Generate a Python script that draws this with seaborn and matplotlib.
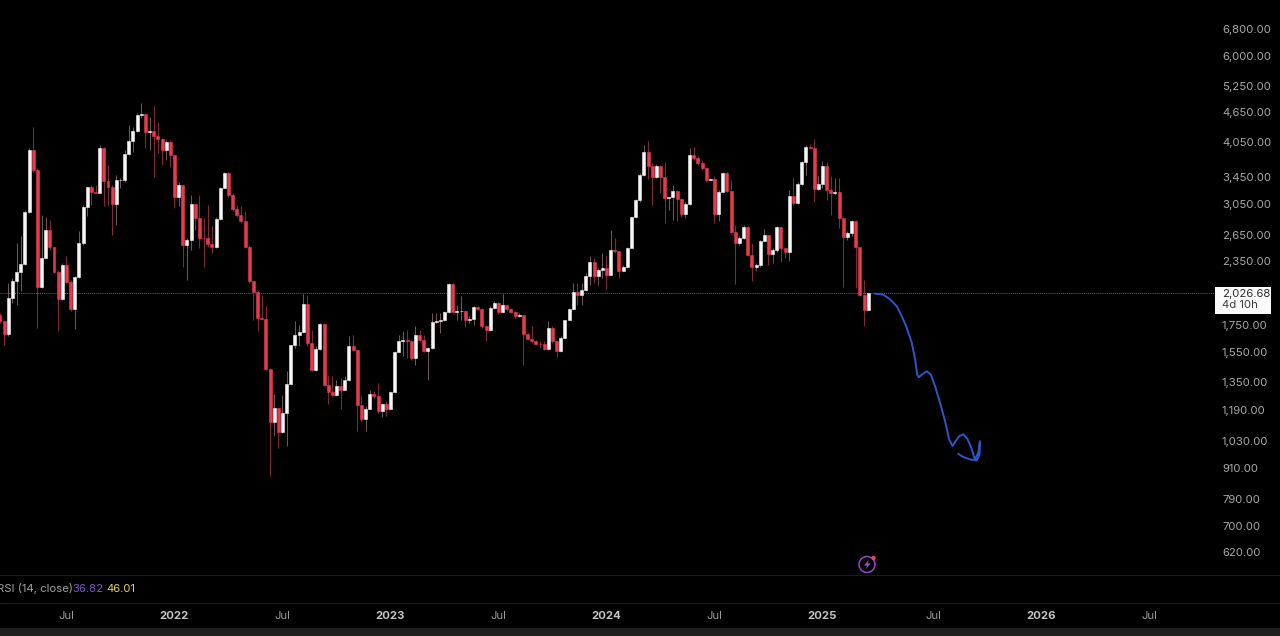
import numpy as np
import pandas as pd
import matplotlib
matplotlib.use("Agg")
import matplotlib.pyplot as plt
from matplotlib.lines import Line2D
from matplotlib.patches import Circle, Polygon, Rectangle
import seaborn as sns

first_open = 1839
closes = [1783,1683,1984,2148,2231,2317,2941,3909,3568,2087,2382,2703,2502,2236,1975,2311,2135,1887,2182,2552,
          3004,3296,3220,3215,3940,3392,3306,3050,3408,3408,3839,4073,4264,4588,4609,4251,4270,4174,4105,3909,
          4049,3822,3144,3332,2532,2591,3050,2861,2611,2606,2541,2506,2852,3290,3514,3181,2986,2905,2818,2512,
          2142,2039,1811,1805,1435,1126,1200,1076,1170,1341,1598,1678,1699,1933,1615,1426,1574,1764,1335,1291,
          1272,1325,1305,1362,1591,1567,1215,1138,1195,1276,1265,1181,1219,1195,1289,1551,1627,1640,1627,1510,
          1678,1640,1560,1579,1778,1783,1797,1858,2120,1858,1867,1870,1797,1803,1904,1887,1748,1717,1896,1939,
          1858,1918,1887,1862,1825,1839,1683,1648,1627,1610,1605,1574,1730,1627,1555,1656,1791,1887,2036,2015,
          2055,2190,2345,2190,2259,2277,2209,2467,2456,2248,2284,2494,2873,3101,3478,3868,3633,3450,3633,3450,
          3135,3145,3246,3125,2919,3054,3811,3763,3680,3605,3408,3429,2919,3231,3525,3246,2683,2552,2611,2742,
          2419,2287,2311,2572,2651,2430,2467,2742,2494,2449,3170,3064,3347,3697,3970,3951,3266,3343,3633,3256,
          3207,3220,2861,2618,2672,2818,2506,2015,1881,2027]
highs = [1853,1783,2126,2175,2552,2630,2972,3940,4350,3596,2905,2881,2839,2512,2259,2329,2400,2158,2190,2692,
         3040,3306,3332,3332,3990,3958,3650,3332,3488,3435,3909,4383,4350,4624,4840,4624,4553,4780,4449,4125,
         4092,4092,3822,3381,3332,2611,3181,3050,3181,2861,3040,2754,2881,3306,3540,3540,3207,3040,3018,2949,
         2532,2142,2045,2015,1910,1441,1276,1200,1272,1419,1603,1783,1757,2025,2015,1717,1591,1770,1770,1397,
         1386,1366,1377,1386,1664,1678,1567,1267,1210,1305,1295,1346,1228,1237,1295,1555,1678,1703,1717,1640,
         1743,1717,1678,1586,1853,1853,1853,1867,2126,2126,1924,1999,1881,1825,1915,1915,1896,1757,1910,1954,
         1945,2025,1924,1896,1867,1853,1839,1691,1743,1640,1627,1627,1783,1743,1627,1664,1797,1896,2130,2126,
         2126,2225,2400,2382,2277,2438,2419,2712,2611,2456,2311,2512,2881,3121,3514,3990,4079,3680,3667,3650,
         3706,3158,3332,3256,3135,3073,3940,3955,3804,3735,3622,3444,3465,3256,3540,3540,3408,2775,2630,2775,
         2754,2552,2329,2591,2721,2651,2494,2754,2754,2506,3256,3435,3381,3723,3990,4018,4105,3465,3723,3706,
         3465,3435,3435,2873,2692,2839,2830,2512,2158,2032]
lows = [1770,1603,1664,1939,1924,2045,2311,2927,3540,1730,2077,2382,2475,2228,1703,1969,2126,1867,1722,2175,
        2532,2893,3040,3207,3207,3018,3040,2651,2775,3281,3381,3822,3879,4251,4519,3940,3909,3450,3851,3650,
        3735,3622,2995,3018,2292,2158,2475,2712,2494,2292,2512,2438,2494,2839,3281,3158,2949,2881,2797,2494,
        2126,1797,1703,1797,1430,878,1054,1000,1071,1008,1335,1579,1591,1691,1591,1419,1419,1567,1325,1219,
        1267,1267,1191,1305,1356,1555,1078,1129,1078,1191,1257,1172,1152,1155,1195,1284,1551,1520,1510,1497,
        1463,1627,1551,1366,1574,1770,1691,1783,1853,1853,1797,1797,1738,1770,1757,1875,1730,1627,1703,1887,
        1847,1853,1867,1853,1811,1819,1463,1640,1615,1598,1579,1567,1567,1615,1516,1551,1653,1791,1881,1924,
        1924,2050,2110,2126,2110,2175,2068,2215,2438,2175,2241,2277,2494,2861,3086,3472,3419,3040,3444,3207,
        2797,2972,2839,2818,2873,2861,3040,3735,3650,3568,3381,3408,2797,2818,3207,3231,2663,2120,2532,2599,
        2400,2142,2241,2292,2560,2311,2329,2444,2345,2382,2356,3040,3054,3332,3488,3921,3086,3256,3281,3111,
        2905,3181,2733,2087,2591,2637,2077,1999,1748,1875]

sketch_week = [210.6,212.6,214.2,215.9,217.1,218.3,219.5,220.3,220.8,221.2,221.9,223.1,224.1,225.1,226.3,227.5,
               228.5,229.3,229.9,230.9,231.9,232.9,233.8,234.7,235.5,235.9,235.8,235.1,233.5,231.9,230.7]
sketch_price = [2025,2015,1975,1910,1825,1730,1615,1497,1397,1380,1397,1419,1397,1325,1228,1129,
                1038,1008,1026,1054,1063,1041,1000,948,977,1030,967,943,948,958,972]

price_ticks = [6800,6000,5250,4650,4050,3450,3050,2650,2350,1750,1550,1350,1190,1030,910,790,700,620]
time_ticks = [15.9,41.9,67.9,93.9,119.9,145.9,171.9,197.9,224.6,250.6,276.8]
time_labels = ["Jul","2022","Jul","2023","Jul","2024","Jul","2025","Jul","2026","Jul"]
last_price = 2026.68
countdown = "4d 10h"
rsi_text = "RSI (14, close)"
rsi_values = ["36.82", "46.01"]

W, H = 1280, 636
sns.set_theme(style="dark", rc={"figure.facecolor": "black", "axes.facecolor": "black", "savefig.facecolor": "black"})
plt.rcParams["font.family"] = ["Inter", "DejaVu Sans"]

RED, WHITE = "#e63a50", "#f6f6f6"
RED_WICK, WHITE_WICK = "#7e2b38", "#6d5658"
FS = 8.2

fig = plt.figure(figsize=(W/100, H/100), dpi=100)
ax = fig.add_axes([0, (H-575)/H, 1216/W, 575/H])

df = pd.DataFrame({"week": np.arange(len(closes)), "close": closes, "high": highs, "low": lows})
df["open"] = [first_open] + closes[:-1]
df["top"] = df[["open", "close"]].max(axis=1)
df["bottom"] = df[["open", "close"]].min(axis=1)
df["body"] = df["top"] - df["bottom"]
df["up"] = df["close"] >= df["open"]

for up, body_c, wick_c in [(False, RED, RED_WICK), (True, WHITE, WHITE_WICK)]:
    part = df[df["up"] == up]
    ax.vlines(part["week"], part["low"], part["high"], color=wick_c, lw=0.75, zorder=1)
    sns.barplot(x=part["week"].to_numpy(), y=part["body"].to_numpy(), bottom=part["bottom"].to_numpy(),
                native_scale=True, color=body_c, saturation=1, errorbar=None, width=0.72,
                edgecolor=body_c, linewidth=0.4, ax=ax, zorder=2)

sns.lineplot(x=sketch_week, y=sketch_price, sort=False, estimator=None, color="#2f55c9", lw=1.4, ax=ax, zorder=4,
             solid_capstyle="round", solid_joinstyle="round")

ax.axhline(last_price, color="#8a8a8a", lw=0.6, ls=(0, (1, 1.5)), zorder=0)

ax.set_yscale("log")
ax.set_ylim(558.2, 7766)
ax.set_xlim(0, 1216/4.154)
ax.yaxis.tick_right()
ax.set_yticks(price_ticks, [f"{v:,.2f}" for v in price_ticks])
ax.minorticks_off()
ax.set_xticks(time_ticks, time_labels)
ax.tick_params(axis="y", length=0, pad=4.3, labelsize=FS, labelcolor="#a8a8a8")
ax.tick_params(axis="x", length=0, pad=26, labelsize=FS, labelcolor="#9a9a9a")
for lab in ax.get_xticklabels():
    if lab.get_text().isdigit():
        lab.set_fontweight("bold")
        lab.set_color("#c4c4c4")
ax.set_xlabel("")
ax.set_ylabel("")
ax.grid(False)
for s in ax.spines.values():
    s.set_visible(False)

def fx(x): return x / W
def fy(y): return 1 - y / H

tf = fig.transFigure
fig.add_artist(Rectangle((0, 0), 1, (H-628)/H, transform=tf, fc="#1e1e1e", ec="none"))
for y in (575, 603):
    fig.add_artist(Line2D([0, 1], [fy(y), fy(y)], transform=tf, color="#1a1a1a", lw=0.8))

fig.add_artist(Rectangle((fx(1215), fy(313.5)), 56/W, 26.5/H, transform=tf, fc="#fafafa", ec="none", zorder=5))
fig.text(fx(1222), fy(294), f"{last_price:,.2f}", color="#2e2e2e", fontsize=FS, va="center", ha="left", zorder=6)
fig.text(fx(1222), fy(305.5), countdown, color="#3e3e3e", fontsize=FS, va="center", ha="left", zorder=6)

fig.text(fx(-3), fy(589), rsi_text, color="#a0a0a0", fontsize=FS, va="center", ha="left")
fig.text(fx(72), fy(589), rsi_values[0], color="#7a58c4", fontsize=FS, va="center", ha="left")
fig.text(fx(106), fy(589), rsi_values[1], color="#e8cf58", fontsize=FS, va="center", ha="left")

# alert icon, in figure pixels
px = fig.dpi_scale_trans.inverted() + fig.dpi_scale_trans  # identity
def P(x, y): return (x, H - y)
idt = matplotlib.transforms.IdentityTransform()
fig.add_artist(Circle(P(867, 564.5), 8, transform=idt, fc="none", ec="#9a45c8", lw=1.1))
fig.add_artist(Polygon([P(869, 559.5), P(864, 565.5), P(867, 565.5), P(865.5, 569.5), P(870.5, 563.5), P(867.5, 563.5)],
                       transform=idt, fc="#a24fd6", ec="none"))
fig.add_artist(Circle(P(873.5, 558), 2.2, transform=idt, fc="#e5484d", ec="none"))

fig.savefig("out.png", dpi=100)
